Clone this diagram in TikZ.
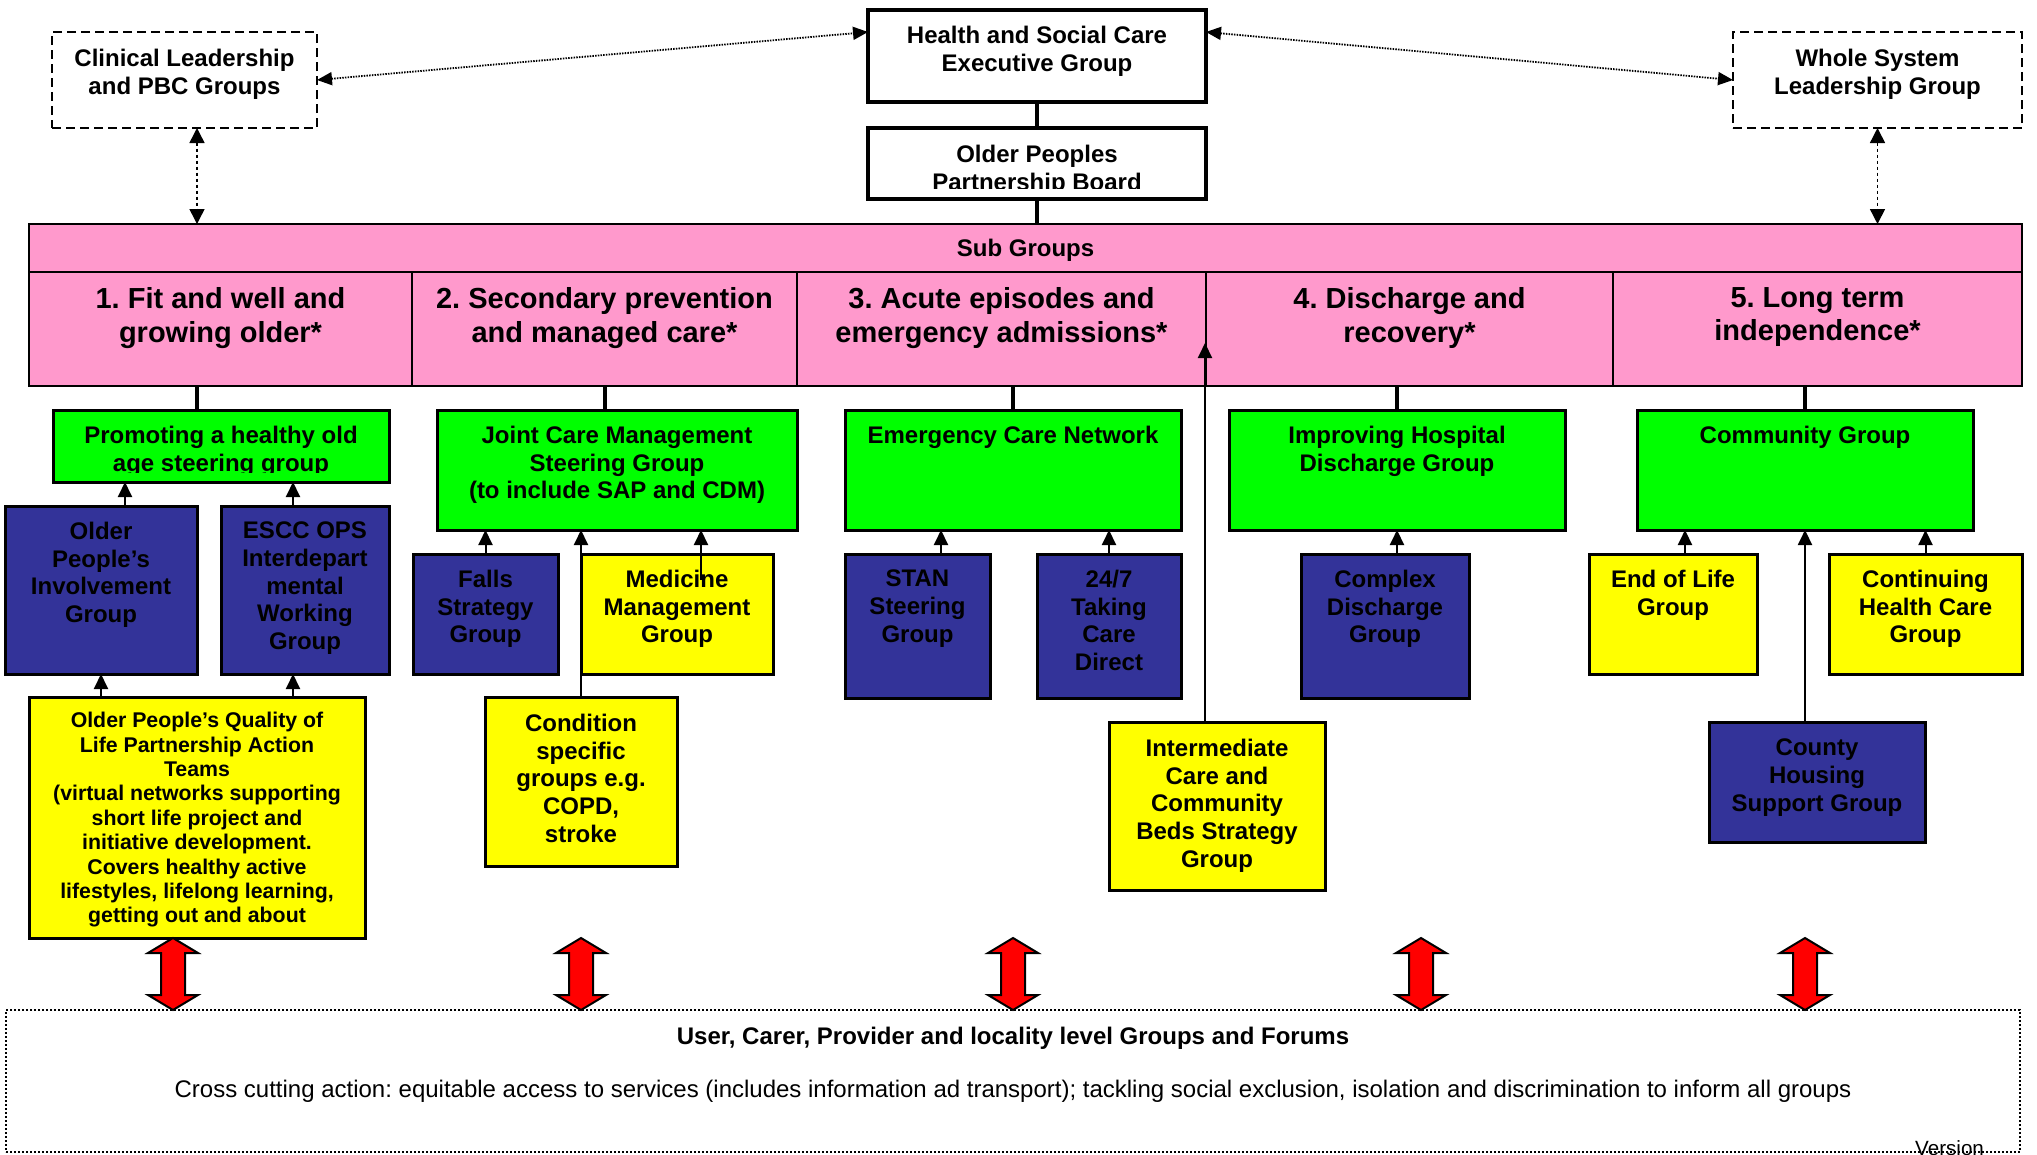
\documentclass[tikz,border=0pt]{standalone}
\usepackage{fontspec}
\setmainfont{Liberation Sans}
\usetikzlibrary{arrows.meta}
\frenchspacing
\definecolor{grn}{RGB}{0,255,0}
\definecolor{pinkc}{RGB}{255,153,204}
\definecolor{blu}{RGB}{51,51,153}
\definecolor{yel}{RGB}{255,255,0}
\definecolor{redc}{RGB}{255,0,0}
\newcommand\mybox[9]{%
  \node[#1, minimum width=#6, minimum height=#7] (#3) at (#4,#5) {};
  \node[#2, anchor=north] (#3t) at ([yshift=-#8]#3.north) {#9};}
\begin{document}
\begin{tikzpicture}[x=1pt,y=-1pt,
  bx/.style={rectangle, draw=black, line width=3pt, anchor=north west, inner sep=0pt, outer sep=0pt},
  gbox/.style={bx, fill=grn},
  ybox/.style={bx, fill=yel},
  bbox/.style={bx, fill=blu},
  wbox/.style={bx, fill=white, line width=4pt},
  dbox/.style={bx, line width=2pt, dash pattern=on 9pt off 5pt},
  pcell/.style={bx, fill=pinkc, line width=2pt},
  dotbox/.style={bx, line width=1.5pt, dash pattern=on 2pt off 2pt},
  txt/.style={align=center, inner sep=0pt, font=\bfseries\fontsize{24}{27.6}\selectfont},
  htxt/.style={txt, font=\bfseries\fontsize{29}{33.8}\selectfont},
  qtxt/.style={txt, font=\bfseries\fontsize{21.3}{24.4}\selectfont},
  thk/.style={line width=4.5pt},
  arr/.style={line width=2pt, -{Triangle[length=15pt,width=14pt]}},
  darr/.style={line width=1.8pt, dash pattern=on 1.5pt off 1.2pt, {Triangle[length=15pt,width=13pt]}-{Triangle[length=15pt,width=13pt]}},
  dvarr/.style={line width=1.5pt, dash pattern=on 3pt off 3pt, {Triangle[length=15pt,width=15pt]}-{Triangle[length=15pt,width=15pt]}},
  redarr/.style={fill=redc, draw=black, line width=2pt, line join=miter}
]
\useasboundingbox (0,0) rectangle (2037,1154);
\clip (0,0) rectangle (2037,1154);

% top boxes
\mybox{wbox}{txt}{exec}{868}{10}{338}{92}{16}{Health and Social Care\\Executive Group}
\node[wbox, minimum width=338, minimum height=71] (opb) at (868,128) {};
\begin{scope}
\clip (870,130) rectangle (1204,188);
\node[txt, anchor=north] (opbt) at ([yshift=-17]opb.north) {Older Peoples\\Partnership Board};
\end{scope}
\mybox{dbox}{txt}{clin}{52}{32}{265}{96}{17}{Clinical Leadership\\and PBC Groups}
\mybox{dbox}{txt}{whole}{1733}{32}{289}{96}{17}{Whole System\\Leadership Group}

% pink band
\node[pcell, minimum width=1993, minimum height=48] (sub) at (29,224) {};
\node[txt, anchor=base] (subt) at ([yshift=-8.6]sub.center) {Sub Groups};
\mybox{pcell}{htxt}{h1}{29}{272}{383}{114}{15}{1. Fit and well and\\growing older*}
\mybox{pcell}{htxt}{h2}{412}{272}{385}{114}{15}{2. Secondary prevention\\and managed care*}
\mybox{pcell}{htxt}{h3}{797}{272}{409}{114}{15}{3. Acute episodes and\\emergency admissions*}
\mybox{pcell}{htxt}{h4}{1206}{272}{407}{114}{15}{4. Discharge and\\recovery*}
\mybox{pcell}{htxt}{h5}{1613}{272}{409}{114}{15}{5. Long term\\independence*}

% green boxes
\node[gbox, minimum width=336, minimum height=72] (promo) at (53,410) {};
\begin{scope}
\clip (55,412) rectangle (387,472);
\node[txt, anchor=north] (promot) at ([yshift=-16]promo.north) {Promoting a healthy old\\age steering group};
\end{scope}
\mybox{gbox}{txt}{joint}{437}{410}{360}{120}{16}{Joint Care Management\\Steering Group\\(to include SAP and CDM)}
\mybox{gbox}{txt}{emerg}{845}{410}{336}{120}{16}{Emergency Care Network}
\mybox{gbox}{txt}{improv}{1229}{410}{336}{120}{16}{Improving Hospital\\Discharge Group}
\mybox{gbox}{txt}{comm}{1637}{410}{336}{120}{16}{Community Group}

% second level
\mybox{bbox}{txt}{opi}{5}{506}{192}{168}{16}{Older\\People’s\\Involvement\\Group}
\mybox{bbox}{txt}{escc}{221}{506}{168}{168}{16}{ESCC OPS\\Interdepart\\mental\\Working\\Group}
\mybox{bbox}{txt}{falls}{413}{554}{145}{120}{16}{Falls\\Strategy\\Group}
\mybox{ybox}{txt}{medic}{581}{554}{192}{120}{16}{Medicine\\Management\\Group}
\mybox{bbox}{txt}{stan}{845}{554}{145}{144}{16}{STAN\\Steering\\Group}
\mybox{bbox}{txt}{tsf}{1037}{554}{144}{144}{16}{24/7\\Taking\\Care\\Direct}
\mybox{bbox}{txt}{complex}{1301}{554}{168}{144}{16}{Complex\\Discharge\\Group}
\mybox{ybox}{txt}{eol}{1589}{554}{168}{120}{16}{End of Life\\Group}
\mybox{ybox}{txt}{cont}{1829}{554}{193}{120}{16}{Continuing\\Health Care\\Group}

% third level
\mybox{ybox}{qtxt}{quality}{29}{697}{336}{241}{15}{Older People’s Quality of\\Life Partnership Action\\Teams\\(virtual networks supporting\\short life project and\\initiative development.\\Covers healthy active\\lifestyles, lifelong learning,\\getting out and about}
\mybox{ybox}{txt}{cond}{485}{697}{192}{169}{17}{Condition\\specific\\groups e.g.\\COPD,\\stroke}
\mybox{ybox}{txt}{inter}{1109}{722}{216}{168}{17}{Intermediate\\Care and\\Community\\Beds Strategy\\Group}
\mybox{bbox}{txt}{county}{1709}{722}{216}{120}{17}{County\\Housing\\Support Group}

% bottom box
\node[dotbox, minimum width=2014, minimum height=142] (forum) at (6,1010) {};
\node[txt, anchor=base] (forumt) at (1013,1044) {User, Carer, Provider and locality level Groups and Forums};
\node[anchor=base, inner sep=0pt, font=\fontsize{24}{27.6}\selectfont] (cross) at (1013,1097) {Cross cutting action: equitable access to services (includes information ad transport); tackling social exclusion, isolation and discrimination to inform all groups};
\node[anchor=base west, inner sep=0pt, font=\fontsize{20.6}{24}\selectfont] (version) at (1915,1155) {Version};

% coordinates
\coordinate (c1) at (197,0);
\coordinate (c2) at (605,0);
\coordinate (a125) at (125,0);
\coordinate (a293) at (293,0);
\coordinate (a941) at (941,0);
\coordinate (a1685) at (1685,0);
\coordinate (exl) at (868,32);
\coordinate (exr) at (1206,32);
\coordinate (itip) at (1205,343);
\coordinate (mstart) at (701,580);

% thick connectors
\draw[thk] (exec.south) -- (opb.north);
\draw[thk] (opb.south) -- (opb.south |- sub.north);
\draw[thk] (h1.south -| c1) -- (promo.north -| c1);
\draw[thk] (h2.south -| c2) -- (joint.north -| c2);
\draw[thk] (h3.south -| emerg.north) -- (emerg.north);
\draw[thk] (h4.south -| improv.north) -- (improv.north);
\draw[thk] (h5.south -| comm.north) -- (comm.north);

% dotted links
\draw[darr] (clin.east) -- (exl);
\draw[darr] (exr) -- (whole.west);
\draw[dvarr] (clin.south -| c1) -- (sub.north -| c1);
\draw[dvarr] (whole.south) -- (whole.south |- sub.north);

% small arrows
\draw[arr] (opi.north -| a125) -- (promo.south -| a125);
\draw[arr] (escc.north -| a293) -- (promo.south -| a293);
\draw[arr] (quality.north -| opi.south) -- (opi.south);
\draw[arr] (quality.north -| a293) -- (escc.south -| a293);
\draw[arr] (falls.north) -- (falls.north |- joint.south);
\draw[arr] (cond.north) -- (cond.north |- joint.south);
\draw[arr] (mstart) -- (joint.south -| mstart);
\draw[arr] (stan.north -| a941) -- (emerg.south -| a941);
\draw[arr] (tsf.north) -- (tsf.north |- emerg.south);
\draw[arr] (complex.north -| improv.south) -- (improv.south);
\draw[arr] (inter.north -| itip) -- (itip);
\draw[arr] (eol.north -| a1685) -- (comm.south -| a1685);
\draw[arr] (county.north -| comm.south) -- (comm.south);
\draw[arr] (cont.north) -- (cont.north |- comm.south);

% red double arrows
\foreach \x in {173,581,1013,1421,1805}
  \draw[redarr] (\x,938) -- ++(25,15) -- ++(-13,0) -- ++(0,42) -- ++(13,0) -- ++(-25,15) -- ++(-25,-15) -- ++(13,0) -- ++(0,-42) -- ++(-13,0) -- cycle;
\end{tikzpicture}
\end{document}
